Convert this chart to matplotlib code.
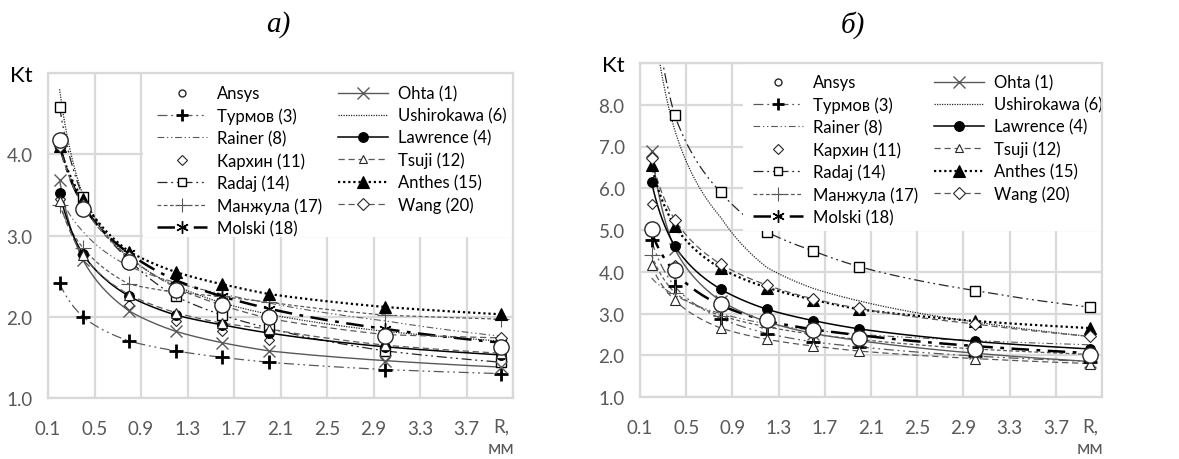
import numpy as np
import matplotlib
matplotlib.use("Agg")
import matplotlib.pyplot as plt
from matplotlib.lines import Line2D
from matplotlib.patches import Rectangle
import matplotlib.transforms as mtransforms

# ---------------- data ----------------
R = [0.2, 0.4, 0.8, 1.2, 1.6, 2.0, 3.0, 4.0]
x_ticks = [0.1, 0.5, 0.9, 1.3, 1.7, 2.1, 2.5, 2.9, 3.3, 3.7]
x_tick_labels = ["0.1", "0.5", "0.9", "1.3", "1.7", "2.1", "2.5", "2.9", "3.3", "3.7"]
a_y_ticks = [1.0, 2.0, 3.0, 4.0]
b_y_ticks = [1.0, 2.0, 3.0, 4.0, 5.0, 6.0, 7.0, 8.0]

labels = ["Ansys", "Турмов (3)", "Rainer (8)", "Кархин (11)", "Radaj (14)",
          "Манжула (17)", "Molski (18)", "Ohta (1)", "Ushirokawa (6)",
          "Lawrence (4)", "Tsuji (12)", "Anthes (15)", "Wang (20)"]

# panel а)
a_ansys = [4.17, 3.33, 2.67, 2.33, 2.14, 2.00, 1.76, 1.63]
a_turmov = [2.41, 2.00, 1.70, 1.58, 1.50, 1.44, 1.35, 1.30]
a_rainer = [3.50, 3.05, 2.62, 2.42, 2.28, 2.17, 1.95, 1.76]
a_karkhin = [3.45, 2.75, 2.15, 1.95, 1.82, 1.72, 1.50, 1.45]
a_radaj = [4.58, 3.48, 2.70, 2.25, 2.02, 1.86, 1.58, 1.44]
a_manzhula = [3.38, 2.85, 2.40, 2.30, 2.25, 2.18, 2.02, 1.97]
a_molski = [4.12, 3.38, 2.78, 2.45, 2.25, 2.10, 1.85, 1.68]
a_ohta = [3.68, 2.70, 2.07, 1.82, 1.68, 1.58, 1.46, 1.38]
a_ushirokawa = [4.80, 3.50, 2.72, 2.38, 2.17, 2.03, 1.82, 1.70]
a_lawrence = [3.52, 2.77, 2.25, 2.02, 1.90, 1.80, 1.63, 1.53]
a_tsuji = [3.42, 2.76, 2.27, 2.05, 1.92, 1.85, 1.65, 1.55]
a_anthes = [4.10, 3.45, 2.80, 2.55, 2.40, 2.28, 2.12, 2.03]
a_wang = [4.10, 3.38, 2.74, 2.36, 2.14, 1.98, 1.78, 1.74]

# panel б)
b_ansys = [5.03, 4.03, 3.22, 2.85, 2.60, 2.42, 2.15, 2.00]
b_turmov = [4.75, 3.65, 2.88, 2.52, 2.32, 2.20, 1.98, 1.85]
b_rainer = [3.85, 3.45, 3.00, 2.75, 2.60, 2.50, 2.35, 2.25]
b_karkhin = [5.62, 4.15, 3.20, 2.78, 2.55, 2.35, 2.08, 1.95]
b_radaj = [11.0, 7.75, 5.90, 4.95, 4.50, 4.12, 3.55, 3.15]
b_manzhula = [4.40, 3.50, 2.95, 2.68, 2.50, 2.38, 2.15, 2.02]
b_molski = [4.95, 4.00, 3.20, 2.82, 2.62, 2.48, 2.22, 2.05]
b_ohta = [6.90, 4.55, 3.30, 2.80, 2.52, 2.35, 2.05, 1.85]
b_ushirokawa = [10.5, 7.40, 5.30, 4.10, 3.60, 3.30, 2.80, 2.45]
b_lawrence = [6.15, 4.62, 3.58, 3.10, 2.83, 2.63, 2.33, 2.15]
b_tsuji = [4.15, 3.32, 2.65, 2.38, 2.22, 2.10, 1.92, 1.80]
b_anthes = [6.55, 5.10, 4.08, 3.62, 3.33, 3.10, 2.82, 2.65]
b_wang = [6.72, 5.25, 4.18, 3.68, 3.35, 3.12, 2.75, 2.45]

panel_a = [a_ansys, a_turmov, a_rainer, a_karkhin, a_radaj, a_manzhula, a_molski,
           a_ohta, a_ushirokawa, a_lawrence, a_tsuji, a_anthes, a_wang]
panel_b = [b_ansys, b_turmov, b_rainer, b_karkhin, b_radaj, b_manzhula, b_molski,
           b_ohta, b_ushirokawa, b_lawrence, b_tsuji, b_anthes, b_wang]

# ---------------- styles ----------------
DK = "#262626"
GR = "#595959"
styles = {
    "Ansys": dict(ls="none", marker="o", ms=11, mfc="white", mec=DK, mew=1.0, lms=5),
    "Турмов (3)": dict(ls=(0, (8, 3, 1.5, 3, 1.5, 3)), lw=0.9, color=GR, marker="+", ms=10, mec="black", mew=2.0, lms=9),
    "Rainer (8)": dict(ls=(0, (6, 2.5, 1.2, 2.5, 1.2, 2.5)), lw=0.8, color=GR, marker="none", ms=0),
    "Кархин (11)": dict(ls="none", marker="D", ms=5.5, mfc="white", mec=DK, mew=0.8, lms=5),
    "Radaj (14)": dict(ls=(0, (8, 3, 1.5, 3, 1.5, 3)), lw=0.9, color=DK, marker="s", ms=7, mfc="white", mec="black", mew=1.0, lms=6),
    "Манжула (17)": dict(ls=(0, (3, 2)), lw=0.9, color=GR, marker="+", ms=11, mec=GR, mew=0.8, lms=10),
    "Molski (18)": dict(ls=(0, (7, 3, 1.5, 3)), lw=1.8, color="black", marker=(6, 2, 0), ms=9, mec="black", mew=1.0, lms=9),
    "Ohta (1)": dict(ls="-", lw=1.0, color=GR, marker="x", ms=9, mec=GR, mew=1.0, lms=9),
    "Ushirokawa (6)": dict(ls=(0, (1, 1)), lw=0.9, color=DK, marker="none", ms=0),
    "Lawrence (4)": dict(ls="-", lw=1.1, color="black", marker="o", ms=7, mfc="black", mec="black", mew=0.8, lms=7),
    "Tsuji (12)": dict(ls=(0, (5, 3)), lw=0.9, color=GR, marker="^", ms=7, mfc="white", mec=DK, mew=0.8, lms=6),
    "Anthes (15)": dict(ls=(0, (1, 1.3)), lw=1.6, color="black", marker="^", ms=8, mfc="black", mec="black", mew=0.8, lms=8),
    "Wang (20)": dict(ls=(0, (5, 3)), lw=0.9, color=GR, marker="D", ms=6, mfc="white", mec=DK, mew=0.8, lms=6),
}

FONT = "Lato"
TICK_COLOR = "#595959"
GRID_COLOR = "#d9d9d9"


def smooth_curve(x, y, n=30):
    lx = np.log(np.asarray(x, float))
    ly = np.log(np.asarray(y, float))
    xs = np.exp(np.linspace(lx[0], lx[-1], n * len(x)))
    ys = np.exp(np.interp(np.log(xs), lx, ly))
    return xs, ys


fig = plt.figure(figsize=(11.79, 4.60), dpi=100)
W, H = 1179, 460

boxes = {"a": (48, 513, 74, 399), "b": (640, 1102, 64, 398)}


def make_axes(x0, x1, top, bottom):
    return fig.add_axes([x0 / W, 1 - bottom / H, (x1 - x0) / W, (bottom - top) / H])


ax_a = make_axes(*boxes["a"])
ax_b = make_axes(*boxes["b"])

panels = [
    (ax_a, "a", panel_a, 5.0, a_y_ticks, "а)", 278, (143, 238), (0.234, 0.962)),
    (ax_b, "b", panel_b, 9.0, b_y_ticks, "б)", 853, (743, 232), (0.245, 0.966)),
]

for ax, key, data, ytop, yt, title, tx, (bx, by), leg_anchor in panels:
    x0, x1, top, bottom = boxes[key]
    ax.set_xlim(0.1, 4.1)
    ax.set_ylim(1.0, ytop)
    ax.set_xticks(x_ticks + [4.1])
    ax.set_xticklabels(x_tick_labels + [""])
    ax.set_yticks(yt + [ytop])
    ax.set_yticklabels(["%.1f" % v for v in yt] + ["Kt"])
    ax.tick_params(length=0, labelsize=13.5, labelcolor=TICK_COLOR)
    ax.tick_params(axis="x", pad=15.5)
    ax.tick_params(axis="y", pad=11)
    for lab in ax.get_xticklabels() + ax.get_yticklabels():
        lab.set_fontfamily(FONT)
    kt = ax.get_yticklabels()[-1]
    kt.set_color("black")
    kt.set_fontsize(16)
    ax.grid(True, color=GRID_COLOR, lw=1.6)
    ax.set_axisbelow(True)
    for sp in ax.spines.values():
        sp.set_color(GRID_COLOR)
        sp.set_linewidth(1.6)
        sp.set_zorder(8)

    # series
    for name, vals in zip(labels, data):
        st = styles[name]
        if st["ls"] != "none":
            xs, ys = smooth_curve(R, vals)
            ax.plot(xs, ys, ls=st["ls"], lw=st["lw"], color=st["color"], zorder=2)
        if st["marker"] != "none":
            ax.plot(R, vals, ls="none", marker=st["marker"], ms=st["ms"],
                    mfc=st.get("mfc", "none"), mec=st.get("mec", "black"),
                    mew=st.get("mew", 1.0),
                    zorder=4 if name == "Ansys" else 3)

    # white legend background (covers grid and lines)
    fx = (bx - x0) / (x1 - x0)
    fb = (bottom - by) / (bottom - top)
    ax.add_patch(Rectangle((fx, fb), 1 - fx, 1 - fb, transform=ax.transAxes,
                           facecolor="white", edgecolor="none", zorder=5))

    handles = []
    for name in labels:
        st = styles[name]
        handles.append(Line2D([0], [0], ls=st["ls"], lw=st.get("lw", 1),
                              color=st.get("color", "black"), marker=st["marker"],
                              ms=st.get("lms", 0), mfc=st.get("mfc", "none"),
                              mec=st.get("mec", "black"), mew=st.get("mew", 1.0)))
    leg = ax.legend(handles, labels, ncol=2, loc="upper left",
                    bbox_to_anchor=leg_anchor, borderpad=0, borderaxespad=0,
                    frameon=False, handlelength=3.0, handletextpad=0.6,
                    columnspacing=0.95, labelspacing=0.36,
                    prop=dict(family=FONT, size=12))
    leg.set_zorder(6)

    # axis label R, мм
    trans = mtransforms.blended_transform_factory(ax.transData, ax.transAxes)
    ax.text(4.0, (bottom - 427) / (bottom - top), "R,", transform=trans,
            ha="center", va="center", fontsize=13.5, color=TICK_COLOR, fontfamily=FONT)
    ax.text(4.0, (bottom - 449) / (bottom - top), "мм", transform=trans,
            ha="center", va="center", fontsize=13.5, color=TICK_COLOR, fontfamily=FONT)

    fig.text(tx / W, 1 - 25 / H, title, ha="center", va="center",
             fontsize=21, style="italic", fontfamily="Liberation Serif")

fig.savefig("out.png", dpi=100)
